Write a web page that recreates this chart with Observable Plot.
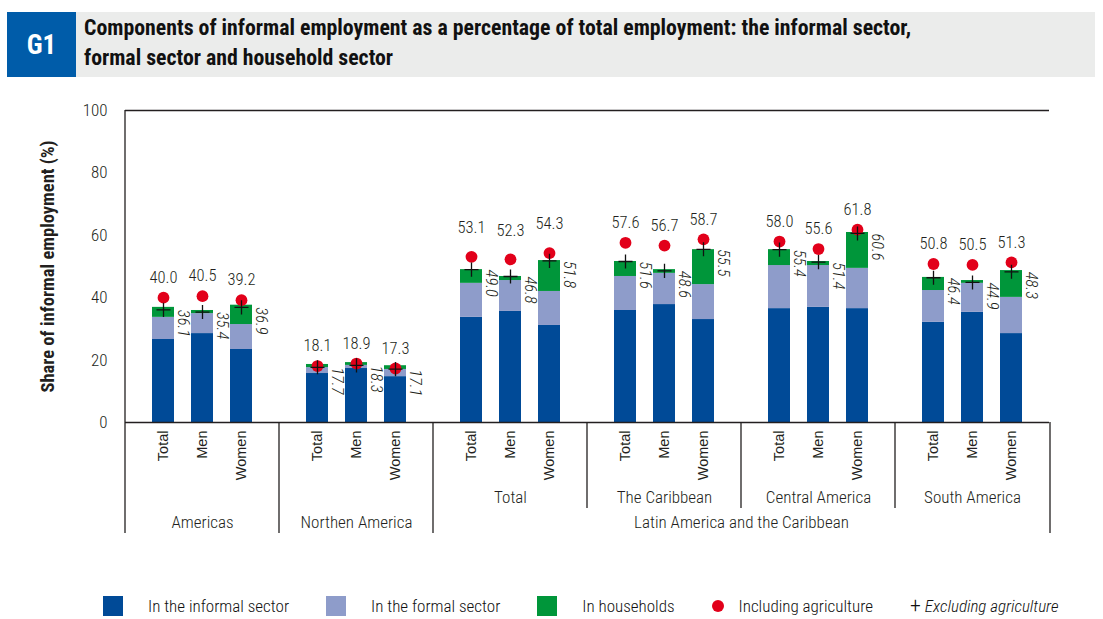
<!DOCTYPE html>
<html><head><meta charset="utf-8">
<script src="https://cdn.jsdelivr.net/npm/d3@7"></script>
<script src="https://cdn.jsdelivr.net/npm/@observablehq/plot@0.6"></script>
<style>
body{margin:0;background:#fff;font-family:"Roboto Condensed","Open Sans",sans-serif;font-stretch:condensed;color:#231f20;}
#wrap{position:relative;width:1103px;height:619px;overflow:hidden;}
#header{position:absolute;left:7px;top:12px;width:1088px;height:65px;background:#ebeceb;}
#g1{position:absolute;left:0;top:0;width:69px;height:65px;background:#005ca9;color:#fff;font-weight:bold;font-size:27px;display:flex;align-items:center;justify-content:center;}
#title{position:absolute;left:77px;top:1px;font-weight:bold;font-size:21.8px;line-height:30px;color:#111;white-space:nowrap;}
#chart{position:absolute;left:0;top:85px;}
#legend{position:absolute;left:103px;top:594px;height:24px;display:flex;align-items:center;font-size:17px;font-weight:300;white-space:nowrap;color:#111;}
.item{display:flex;align-items:center;margin-right:37px;}
.sw{display:inline-block;width:20px;height:20px;margin-right:25px;}
.dotsym{display:inline-block;width:12px;height:12px;border-radius:50%;background:#e2001a;margin-right:15px;}
.plussym{display:inline-block;font-size:22px;font-weight:300;margin-right:4px;line-height:20px;}
</style>
</head><body>
<div id="wrap">
  <div id="header"><div id="g1">G1</div><div id="title">Components of informal employment as a percentage of total employment: the informal sector,<br>formal sector and household sector</div></div>
  <div id="chart"></div>
  <div id="legend"></div>
</div>
<script>
const groups = ["Americas","Northen America","LAC","The Caribbean","Central America","South America"];
const subLabels = ["", "", "Total", "The Caribbean", "Central America", "South America"];
const regionLabels = ["Americas", "Northen America"];
const lacLabel = "Latin America and the Caribbean";
const sexes = ["Total","Men","Women"];
const components = ["In the informal sector","In the formal sector","In households"];
const colors = ["#004a97","#8e9cca","#00963a"];

// values per bar: groups x sexes
const informal   = [26.6,28.5,23.4, 15.7,17.3,14.7, 33.7,35.6,31.1, 35.9,37.8,33.0, 36.5,36.9,36.5, 32.1,35.3,28.5];
const formal     = [ 7.1, 6.4, 8.0,  1.9, 1.0, 2.3, 10.9, 9.9,10.9, 10.9,10.0,11.2, 13.8,13.4,12.9, 10.2, 9.3,11.6];
const households = [ 3.2, 1.0, 6.2,  1.0, 0.9, 1.2,  4.4, 1.3, 9.9,  4.8, 1.2,11.2,  5.1, 1.3,11.5,  4.2, 0.9, 8.6];
const inclAgri   = [40.0,40.5,39.2, 18.1,18.9,17.3, 53.1,52.3,54.3, 57.6,56.7,58.7, 58.0,55.6,61.8, 50.8,50.5,51.3];
const exclAgri   = [36.1,35.4,36.9, 17.7,18.3,17.1, 49.0,46.8,51.8, 51.6,48.6,55.5, 55.4,51.4,60.6, 46.4,44.9,48.3];

const points = groups.flatMap((g,i)=>sexes.map((s,j)=>({group:g, sex:s, k:i*3+j})));
const series = [informal, formal, households];
const rows = points.flatMap(p => series.map((arr,c)=>({group:p.group, sex:p.sex, component:components[c], value:arr[p.k]})));
const marksData = points.map(p=>({group:p.group, sex:p.sex, incl:inclAgri[p.k], excl:exclAgri[p.k]}));
const subData = groups.map((g,i)=>({group:g, label:subLabels[i]})).filter(d=>d.label);
const regionData = regionLabels.map(r=>({group:r, label:r}));
const lacData = [{group:"The Caribbean", label:lacLabel}];

const FONT = '"Roboto Condensed","Open Sans",sans-serif';
const inclFmt = d=>d.incl.toFixed(1);
const plot = Plot.plot({
  width:1103, height:500, marginTop:25, marginBottom:163, marginLeft:123, marginRight:53,
  fx:{domain:groups, padding:0, axis:null},
  x:{domain:sexes, paddingInner:0.425, paddingOuter:0.644},
  y:{domain:[0,100]},
  color:{domain:components, range:colors},
  style:{fontFamily:FONT, fontSize:"16px", color:"#231f20", background:"transparent"},
  marks:[
    Plot.barY(rows,{fx:"group",x:"sex",y:"value",fill:"component",order:components,inset:0}),
    Plot.ruleY([0,100],{stroke:"#231f20",strokeWidth:1.3}),
    Plot.axisX({tickRotate:-90,tickSize:0,tickPadding:8,fontFamily:"Liberation Sans, Arial, sans-serif",fontSize:14.5,label:null}),
    Plot.axisY({ticks:[0,20,40,60,80,100],tickSize:0,tickPadding:18,label:"Share of informal employment (%)",labelAnchor:"center",labelArrow:false,labelOffset:85,fontSize:17,fontWeight:300}),
    Plot.dot(marksData,{fx:"group",x:"sex",y:"incl",r:5.9,fill:"#e2001a"}),
    Plot.dot(marksData,{fx:"group",x:"sex",y:"excl",symbol:"plus",r:4.6,stroke:"#111",strokeWidth:1.3}),
    Plot.text(marksData.filter(d=>d.group!=="LAC"),{fx:"group",x:"sex",y:"incl",text:inclFmt,dy:-20,fontSize:16.5,fontWeight:300}),
    Plot.text(marksData.filter(d=>d.group==="LAC"),{fx:"group",x:"sex",y:"incl",text:inclFmt,dy:-29,fontSize:16.5,fontWeight:300}),
    Plot.text(marksData,{fx:"group",x:"sex",y:"excl",text:d=>d.excl.toFixed(1),rotate:90,textAnchor:"start",lineAnchor:"middle",dx:19.5,fontStyle:"italic",fontSize:16.5,fontWeight:300}),
    Plot.text(subData,{fx:"group",text:"label",frameAnchor:"bottom",dy:80,fontSize:17,fontWeight:300}),
    Plot.text(regionData,{fx:"group",text:"label",frameAnchor:"bottom",dy:105,fontSize:17,fontWeight:300}),
    Plot.text(lacData,{fx:"group",text:"label",frameAnchor:"bottom-right",textAnchor:"middle",dy:105,fontSize:17,fontWeight:300})
  ]
});
document.getElementById("chart").appendChild(plot);

// bold y-axis label
d3.select(plot).selectAll('[aria-label="y-axis label"] text').attr("font-weight","bold").attr("font-size",18.5);

// divider lines using the library's scales
const fx = plot.scale("fx"), y = plot.scale("y");
const y0 = y.apply(0), yTop = y.apply(100);
const svg = d3.select(plot);
const mainX = [fx.apply("Americas"), fx.apply("Northen America"), fx.apply("LAC"), fx.range[1]];
const subX = [fx.apply("The Caribbean"), fx.apply("Central America"), fx.apply("South America")];
const gl = svg.append("g").attr("stroke","#231f20").attr("stroke-width",1.3);
gl.append("line").attr("x1",mainX[0]).attr("x2",mainX[0]).attr("y1",yTop).attr("y2",y0+111);
mainX.slice(1).forEach(x=>gl.append("line").attr("x1",x).attr("x2",x).attr("y1",y0).attr("y2",y0+111));
subX.forEach(x=>gl.append("line").attr("x1",x).attr("x2",x).attr("y1",y0).attr("y2",y0+86));

// legend built from the component list
const lg = d3.select("#legend");
components.forEach((c,i)=>{
  const it = lg.append("div").attr("class","item");
  it.append("span").attr("class","sw").style("background",colors[i]);
  it.append("span").text(c);
});
const it1 = lg.append("div").attr("class","item");
it1.append("span").attr("class","dotsym"); it1.append("span").text("Including agriculture");
const it2 = lg.append("div").attr("class","item");
it2.append("span").attr("class","plussym").text("+"); it2.append("span").style("font-style","italic").text("Excluding agriculture");
</script>
</body></html>
